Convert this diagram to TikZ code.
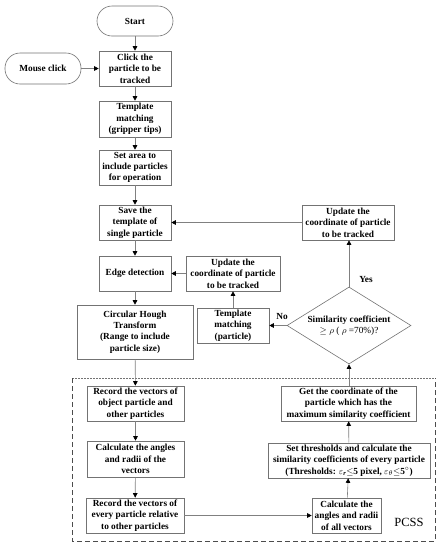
\documentclass[tikz,border=0pt]{standalone}
\usepackage{fontspec}
\setmainfont{Liberation Serif}
\usetikzlibrary{shapes.geometric,arrows.meta}
\begin{document}
\begin{tikzpicture}[x=1pt,y=-1pt,
  box/.style={draw=black!55, line width=0.6pt, fill=white, align=center,
    font=\fontsize{9.3}{11.4}\selectfont\bfseries, inner sep=1pt},
  term/.style={box, rounded corners=15pt},
  conn/.style={draw=black!50, line width=0.6pt, -{Triangle[length=4.5pt,width=4.5pt,color=black]}},
  lbl/.style={font=\fontsize{9.3}{11.4}\selectfont\bfseries, inner sep=1pt}]
\useasboundingbox (0,0) rectangle (440,550);
% PCSS frame
\draw[black!55, line width=0.5pt, dash pattern=on 1.5pt off 1.5pt] (72,378) -- (435,378);
\draw[black!70, line width=0.8pt, dash pattern=on 5pt off 3pt] (72,378) -- (72,541) -- (435,541) -- (435,378);
\node[font=\fontsize{12.5}{14}\selectfont] (pcss) at (409,522) {PCSS};
% main column
\node[term, minimum width=76pt, minimum height=30pt] (start) at (135,21) {Start};
\node[term, minimum width=76pt, minimum height=31pt] (mouse) at (43,68.5) {Mouse click};
\node[box, minimum width=72pt, minimum height=35pt] (click) at (135,68.5) {Click the\\particle to be\\tracked};
\node[box, minimum width=72pt, minimum height=36pt] (tm1) at (135,119) {Template\\matching\\(gripper tips)};
\node[box, minimum width=72pt, minimum height=35pt] (area) at (135,167.5) {Set area to\\include particles\\for operation};
\node[box, minimum width=72pt, minimum height=35pt] (save) at (135,222.5) {Save the\\template of\\single particle};
\node[box, minimum width=72pt, minimum height=35pt] (edge) at (135,273.5) {Edge detection};
\node[box, minimum width=116pt, minimum height=54pt] (hough) at (135,332) {Circular Hough\\Transform\\(Range to include\\particle size)};
\node[box, minimum width=97pt, minimum height=35pt] (rec1) at (135.5,403.5) {Record the vectors of\\object particle and\\other particles};
\node[box, minimum width=97pt, minimum height=36pt] (calc1) at (135.5,459) {Calculate the angles\\and radii of the\\vectors};
\node[box, minimum width=98pt, minimum height=35pt] (rec2) at (135,515.5) {Record the vectors of\\every particle relative\\to other particles};
% right side
\node[box, minimum width=92pt, minimum height=35pt] (upd2) at (348,222.5) {Update the\\coordinate of particle\\to be tracked};
\node[box, minimum width=94pt, minimum height=35pt] (upd1) at (233,273.5) {Update the\\coordinate of particle\\to be tracked};
\node[box, minimum width=72pt, minimum height=35pt] (tm2) at (233,325.5) {Template\\matching\\(particle)};
\node[draw=black!55, line width=0.6pt, diamond, minimum width=124pt, minimum height=77pt, inner sep=0pt] (dia) at (349,325.5) {};
\node[align=center, font=\fontsize{9.3}{11.4}\selectfont, inner sep=0pt] (diatext) at (dia.center) {\textbf{Similarity coefficient}\\$\geq\rho$ ( $\rho$ =70\%)?};
\node[box, minimum width=135pt, minimum height=35pt] (get) at (348.5,403.5) {Get the coordinate of the\\particle which has the\\maximum similarity coefficient};
\node[box, minimum width=162pt, minimum height=35pt] (thr) at (349,460.5) {Set thresholds and calculate the\\similarity coefficients of every particle\\(Thresholds: $\varepsilon$\textsubscript{\itshape r}$\leq$5 pixel,  $\varepsilon$\textsubscript{$\theta$}$\leq$5\textsuperscript{$\circ$})};
\node[box, minimum width=69pt, minimum height=35pt] (calc2) at (346.5,515.5) {Calculate the\\angles and radii\\of all vectors};
\node[lbl] (yes) at (366,279) {Yes};
\node[lbl] (no) at (282,316) {No};
% connectors
\draw[conn] (start) -- (click);
\draw[conn] (mouse) -- (click);
\draw[conn] (click) -- (tm1);
\draw[conn] (tm1) -- (area);
\draw[conn] (area) -- (save);
\draw[conn] (save) -- (edge);
\draw[conn] (edge) -- (hough);
\draw[conn] (hough) -- (rec1);
\draw[conn] (rec1) -- (calc1);
\draw[conn] (calc1) -- (rec2);
\draw[conn] (rec2) -- (calc2);
\draw[conn] (calc2) -- (thr);
\draw[conn] (thr) -- (get);
\draw[conn] (get.north -| dia.south) -- (dia.south);
\draw[conn] (dia.north) -- (dia.north |- upd2.south);
\draw[conn] (upd2) -- (save);
\draw[conn] (dia.west) -- (tm2);
\draw[conn] (tm2) -- (upd1);
\draw[conn] (upd1) -- (edge);
\end{tikzpicture}
\end{document}
